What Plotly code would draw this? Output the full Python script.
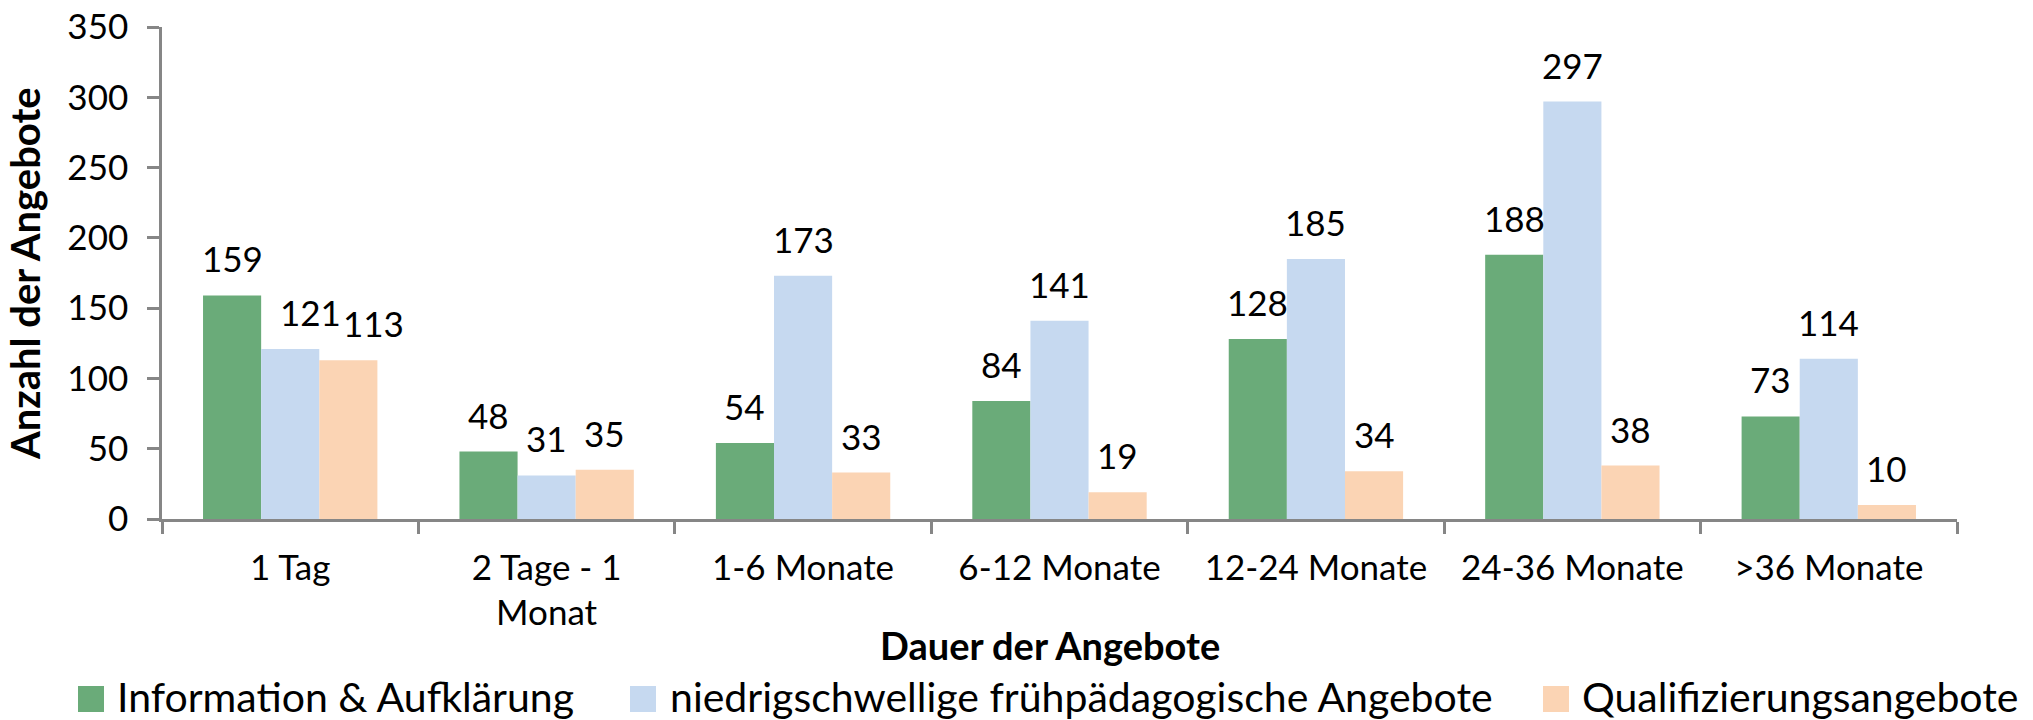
import plotly.graph_objects as go

# ---------------- data ----------------
categories = ["1 Tag", "2 Tage - 1 Monat", "1-6 Monate", "6-12 Monate",
              "12-24 Monate", "24-36 Monate", ">36 Monate"]
tick_labels = ["1 Tag", "2 Tage - 1<br>Monat", "1-6 Monate", "6-12 Monate",
               "12-24 Monate", "24-36 Monate", ">36 Monate"]
series_names = ["Information & Aufklärung",
                "niedrigschwellige frühpädagogische Angebote",
                "Qualifizierungsangebote"]
info_values = [159, 48, 54, 84, 128, 188, 73]
niedrig_values = [121, 31, 173, 141, 185, 297, 114]
quali_values = [113, 35, 33, 19, 34, 38, 10]
y_ticks = [0, 50, 100, 150, 200, 250, 300, 350]
x_title = "Dauer der Angebote"
y_title = "Anzahl der Angebote"

# ---------------- style ----------------
colors = ["#6aab79", "#c6d9f0", "#fbd4b4"]
FONT = "Lato"
W, H = 2033, 720
# plot area in page pixels: x 162..1957, y 27..519
ML, MT = 162, 27
MR = W - 1957
MB = H - 519
PW, PH = W - ML - MR, H - MT - MB
BARGAP = 0.32


def px_x(px):
    """page pixel x -> paper coordinate"""
    return (px - ML) / PW


def px_y(py):
    """page pixel y -> paper coordinate"""
    return (H - MB - py) / PH


series = [info_values, niedrig_values, quali_values]

fig = go.Figure()
for name, vals, col in zip(series_names, series, colors):
    fig.add_trace(go.Bar(
        x=categories, y=vals, name=name,
        marker=dict(color=col, line=dict(width=0)),
        showlegend=False,
    ))

# data labels (placed above bars, following the group offsets)
bar_w = (1 - BARGAP) / len(series)
label_nudge = {(0, 1): 20, (0, 2): 25}  # avoid overlap in first group
for k, vals in enumerate(series):
    off = (k - (len(series) - 1) / 2) * bar_w
    for i, v in enumerate(vals):
        fig.add_annotation(
            x=i + off, y=v, xref="x", yref="y",
            text=str(v), showarrow=False,
            xanchor="center", yanchor="bottom",
            yshift=14, xshift=label_nudge.get((i, k), 0),
            font=dict(family=FONT, size=35, color="#000000"),
        )

# custom legend
leg_square_x = [78, 630, 1543]
leg_text_x = [115, 668, 1580]
for name, col, sx, tx in zip(series_names, colors, leg_square_x, leg_text_x):
    fig.add_shape(type="rect", xref="paper", yref="paper",
                  x0=px_x(sx), x1=px_x(sx + 26), y0=px_y(712), y1=px_y(686),
                  fillcolor=col, line=dict(width=0))
    fig.add_annotation(x=px_x(tx), y=px_y(696), xref="paper", yref="paper",
                       text=name, showarrow=False, xanchor="left", yanchor="middle",
                       font=dict(family=FONT, size=41, color="#000000"))

# axis titles
fig.add_annotation(x=px_x(1050), y=px_y(645), xref="paper", yref="paper",
                   text="<b>" + x_title + "</b>", showarrow=False,
                   xanchor="center", yanchor="middle",
                   font=dict(family=FONT, size=38, color="#000000"))
fig.add_annotation(x=px_x(25), y=px_y(274), xref="paper", yref="paper",
                   text="<b>" + y_title + "</b>", showarrow=False, textangle=-90,
                   xanchor="center", yanchor="middle",
                   font=dict(family=FONT, size=40, color="#000000"))

fig.update_layout(
    width=W, height=H,
    margin=dict(l=ML, r=MR, t=MT, b=MB, autoexpand=False),
    barmode="group", bargap=BARGAP, bargroupgap=0,
    plot_bgcolor="white", paper_bgcolor="white",
    font=dict(family=FONT, color="#000000"),
    showlegend=False,
)
fig.update_xaxes(
    tickvals=categories, ticktext=tick_labels,
    showline=True, linecolor="#868686", linewidth=2.5,
    ticks="outside", tickson="boundaries", ticklen=12, tickwidth=2.5,
    tickcolor="#868686", showgrid=False, ticklabelstandoff=16,
    tickfont=dict(family=FONT, size=35, color="#000000"),
    automargin=False,
)
fig.update_yaxes(
    range=[0, 350], tickvals=y_ticks,
    showline=True, linecolor="#868686", linewidth=2.5,
    ticks="outside", ticklen=12, tickwidth=2.5, tickcolor="#868686",
    showgrid=False, zeroline=False, ticklabelstandoff=12,
    tickfont=dict(family=FONT, size=35, color="#000000"),
    automargin=False,
)

fig.write_html("out.html",
               config={"displayModeBar": False},
               post_script="document.body.style.margin='0';document.body.style.overflow='hidden';")
